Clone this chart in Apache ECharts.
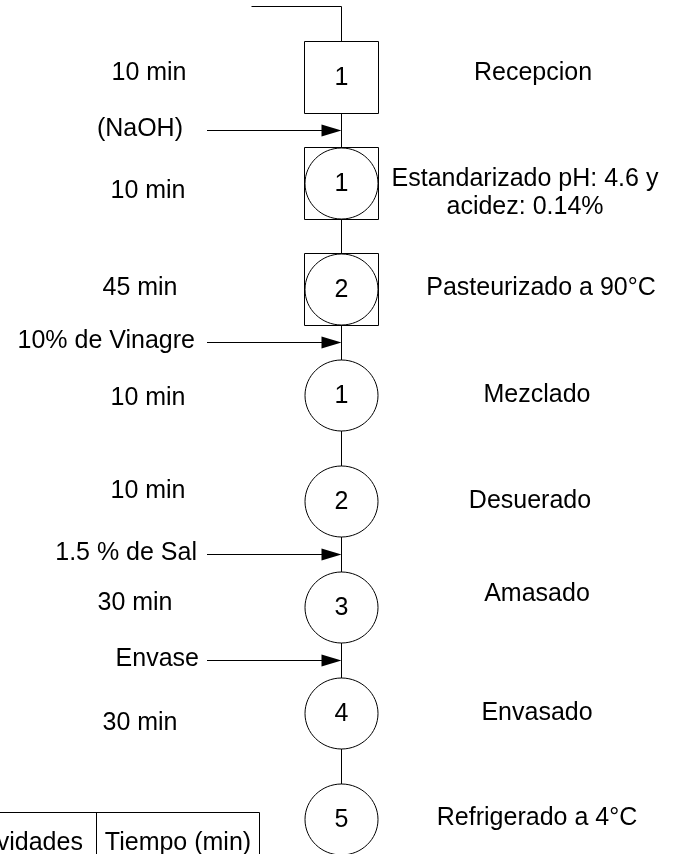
<!DOCTYPE html>
<html>
<head>
<meta charset="utf-8">
<title>Diagrama de proceso</title>
<script src="https://cdn.jsdelivr.net/npm/echarts@6.0.0/dist/echarts.min.js"></script>
<style>
  html, body { margin: 0; padding: 0; background: #fff; }
  #chart { width: 674px; height: 854px; }
</style>
</head>
<body>
<div id="chart"></div>
<script>
// datos del diagrama
const simbolos = ['1', '1', '2', '1', '2', '3', '4', '5'];
const tipos = ['inspeccion', 'combinada', 'combinada', 'operacion', 'operacion', 'operacion', 'operacion', 'operacion'];
const tiempos = ['10 min', '10 min', '45 min', '10 min', '10 min', '30 min', '30 min'];
const actividades = [
  'Recepcion',
  'Estandarizado pH: 4.6 y\nacidez: 0.14%',
  'Pasteurizado a 90°C',
  'Mezclado',
  'Desuerado',
  'Amasado',
  'Envasado',
  'Refrigerado a 4°C'
];
const entradas = ['(NaOH)', '10% de Vinagre', '1.5 % de Sal', 'Envase'];
const entradaTrasPaso = [0, 2, 4, 5];
const encabezados = ['Actividades', 'Tiempo (min)'];

// maquetacion (pixeles)
const CX = 341.5;
const FONT = '"Liberation Sans", Arial, sans-serif';
const FS = 25;
const TIEMPO_X = [149, 148, 140, 148, 148, 135, 140];
const TIEMPO_DY = [-4, 8, -1, 3, -10, -4, 10];
const NOMBRE_X = [533, 525, 541, 537, 530, 537, 537, 537];
const NOMBRE_DY = [-4, 10, -1, 0, 0, -13, 0, -1];
const ENTRADA_X = [183, 195, 197, 199];

const chart = echarts.init(document.getElementById('chart'));

const txt = (text, x, y, align, extra) => ({
  type: 'text',
  style: Object.assign({
    text, x, y,
    align: align || 'center',
    verticalAlign: 'middle',
    fontSize: FS,
    fontFamily: FONT,
    fill: '#000'
  }, extra || {})
});

const stroke = { stroke: '#000', lineWidth: 1 };

const renderFlujo = (params, api) => {
  const top = api.coord([CX, 0]);
  const bottom = api.coord([CX, simbolos.length - 1]);
  const yTop = top[1] - 71;
  return {
    type: 'group',
    children: [
      { type: 'line', shape: { x1: 251.5, y1: yTop, x2: CX, y2: yTop }, style: stroke },
      { type: 'line', shape: { x1: CX, y1: yTop, x2: CX, y2: bottom[1] }, style: stroke }
    ]
  };
};

const renderPaso = (params, api) => {
  const i = api.value(0);
  const p = api.coord([CX, i]);
  const children = [];
  if (tipos[i] !== 'operacion') {
    children.push({
      type: 'rect',
      shape: { x: p[0] - 37, y: p[1] - 36, width: 74, height: 72 },
      style: Object.assign({ fill: '#fff' }, stroke)
    });
  }
  if (tipos[i] !== 'inspeccion') {
    children.push({
      type: 'ellipse',
      shape: { cx: p[0], cy: p[1], rx: 36.5, ry: 35.5 },
      style: Object.assign({ fill: '#fff' }, stroke)
    });
  }
  children.push(txt(simbolos[i], p[0], p[1] + 1));
  return { type: 'group', children };
};

const renderEntrada = (params, api) => {
  const i = params.dataIndex;
  const p = api.coord([CX, api.value(0) + 0.5]);
  const y = p[1];
  return {
    type: 'group',
    children: [
      { type: 'line', shape: { x1: 207, y1: y, x2: p[0] - 18, y2: y }, style: stroke },
      { type: 'polygon', shape: { points: [[p[0] - 20, y - 6], [p[0], y], [p[0] - 20, y + 6]] }, style: { fill: '#000' } },
      txt(entradas[i], ENTRADA_X[i], y - 1, 'right')
    ]
  };
};

const renderTiempo = (params, api) => {
  const i = params.dataIndex;
  const p = api.coord([CX, api.value(0)]);
  return txt(tiempos[i], TIEMPO_X[i], p[1] + TIEMPO_DY[i]);
};

const renderNombre = (params, api) => {
  const i = params.dataIndex;
  const p = api.coord([CX, api.value(0)]);
  return txt(actividades[i], NOMBRE_X[i], p[1] + NOMBRE_DY[i], 'center', { lineHeight: 28 });
};

const renderTabla = (params, api) => {
  const p = api.coord([CX, simbolos.length - 1]);
  const yTop = p[1] - 7;
  const yBot = yTop + 70;
  return {
    type: 'group',
    children: [
      { type: 'line', shape: { x1: -60, y1: yTop, x2: 259.5, y2: yTop }, style: stroke },
      { type: 'line', shape: { x1: 96.5, y1: yTop, x2: 96.5, y2: yBot }, style: stroke },
      { type: 'line', shape: { x1: 259.5, y1: yTop, x2: 259.5, y2: yBot }, style: stroke },
      txt(encabezados[0], 19, yTop + 31),
      txt(encabezados[1], 178, yTop + 31)
    ]
  };
};

const option = {
  animation: false,
  backgroundColor: '#fff',
  grid: { left: 0, right: 0, top: 0, bottom: 0 },
  xAxis: { type: 'value', min: 0, max: 674, show: false },
  yAxis: { type: 'value', min: -77.5 / 106, max: (854 - 77.5) / 106, inverse: true, show: false },
  series: [
    { type: 'custom', name: 'flujo', clip: false, z: 1, renderItem: renderFlujo, data: [[0]] },
    { type: 'custom', name: 'pasos', clip: false, z: 2, renderItem: renderPaso, data: simbolos.map((s, i) => [i]) },
    { type: 'custom', name: 'entradas', clip: false, z: 3, renderItem: renderEntrada, data: entradaTrasPaso.map(v => [v]) },
    { type: 'custom', name: 'tiempos', clip: false, z: 3, renderItem: renderTiempo, data: tiempos.map((t, i) => [i]) },
    { type: 'custom', name: 'actividades', clip: false, z: 3, renderItem: renderNombre, data: actividades.map((a, i) => [i]) },
    { type: 'custom', name: 'tabla', clip: false, z: 3, renderItem: renderTabla, data: [[0]] }
  ]
};

chart.setOption(option);
</script>
</body>
</html>
